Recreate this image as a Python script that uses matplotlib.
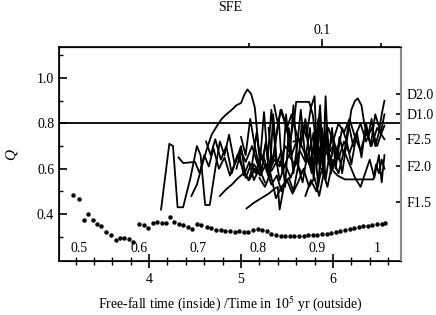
import matplotlib
matplotlib.use("Agg")
import matplotlib.pyplot as plt

plt.rcParams['font.family'] = ['Liberation Serif', 'DejaVu Serif']
plt.rcParams['font.size'] = 10
plt.rcParams['mathtext.fontset'] = 'stix'

# dotted series (time in 1e5 yr, Q)
dot_t = [3.17, 3.24, 3.29, 3.34, 3.39, 3.43, 3.48, 3.53, 3.585, 3.64, 3.68, 3.73,
         3.78, 3.83, 3.89, 3.94, 3.99, 4.04, 4.09, 4.14, 4.18, 4.23, 4.27, 4.32,
         4.37, 4.42, 4.47, 4.52, 4.57, 4.625, 4.675, 4.73,
         4.78, 4.83, 4.88, 4.93, 4.98, 5.03, 5.08, 5.13, 5.18, 5.23, 5.28, 5.33,
         5.38, 5.43, 5.48, 5.53, 5.58, 5.63, 5.68, 5.73, 5.78, 5.83, 5.88, 5.93,
         5.98, 6.03, 6.08, 6.13, 6.18, 6.23, 6.28, 6.33, 6.38, 6.43, 6.48, 6.53, 6.57]
dot_q = [0.483, 0.467, 0.376, 0.40, 0.376, 0.358, 0.347, 0.32, 0.308, 0.285, 0.295, 0.294,
         0.289, 0.277, 0.355, 0.352, 0.339, 0.361, 0.364, 0.361, 0.362, 0.388, 0.366, 0.358,
         0.351, 0.344, 0.333, 0.355, 0.351, 0.344, 0.338, 0.33,
         0.328, 0.326, 0.324, 0.322, 0.325, 0.322, 0.32, 0.33, 0.333, 0.33, 0.325, 0.314,
         0.308, 0.305, 0.303, 0.303, 0.304, 0.305, 0.305, 0.306, 0.307, 0.308, 0.31, 0.312,
         0.316, 0.32, 0.325, 0.329, 0.333, 0.338, 0.343, 0.346, 0.349, 0.352, 0.355, 0.358, 0.362]

# individual runs (time, Q)
runs = [
    ([4.13, 4.22, 4.26, 4.31, 4.37, 4.45, 4.52, 4.56, 4.61, 4.66, 4.72, 4.77, 4.82, 4.87,
      4.93, 4.98, 5.03, 5.09, 5.14, 5.20, 5.26],
     [0.42, 0.71, 0.70, 0.43, 0.43, 0.56, 0.70, 0.66, 0.44, 0.44, 0.60, 0.72, 0.66, 0.75,
      0.62, 0.67, 0.57, 0.63, 0.55, 0.60, 0.54]),
    ([4.32, 4.37, 4.50, 4.55, 4.60, 4.65, 4.70, 4.76, 4.82, 4.88, 4.94, 5.00, 5.05, 5.11,
      5.16, 5.21, 5.27, 5.33, 5.39, 5.44, 5.50],
     [0.65, 0.625, 0.63, 0.58, 0.66, 0.61, 0.69, 0.60, 0.65, 0.57, 0.63, 0.70, 0.56, 0.62,
      0.58, 0.66, 0.60, 0.53, 0.57, 0.50, 0.55]),
    ([4.46, 4.52, 4.58, 4.63, 4.68, 4.74, 4.79, 4.84, 4.90, 4.95, 5.00, 5.04, 5.07, 5.11,
      5.15, 5.19, 5.23, 5.27, 5.32, 5.37, 5.42, 5.48, 5.54, 5.60, 5.66],
     [0.48, 0.53, 0.62, 0.69, 0.75, 0.79, 0.82, 0.84, 0.86, 0.88, 0.89, 0.93, 0.95, 0.93,
      0.87, 0.70, 0.64, 0.71, 0.60, 0.67, 0.55, 0.62, 0.56, 0.63, 0.58]),
    ([4.77, 4.84, 4.90, 4.97, 5.03, 5.09, 5.15, 5.21, 5.27, 5.33, 5.40, 5.46, 5.52, 5.58,
      5.64, 5.70, 5.76, 5.82, 5.88, 5.94, 6.00, 6.06, 6.12, 6.18, 6.24, 6.30, 6.36, 6.42,
      6.48, 6.56],
     [0.48, 0.51, 0.53, 0.56, 0.58, 0.55, 0.60, 0.57, 0.62, 0.59, 0.64, 0.60, 0.66, 0.62,
      0.68, 0.63, 0.70, 0.64, 0.72, 0.66, 0.70, 0.64, 0.72, 0.67, 0.74, 0.68, 0.76, 0.70,
      0.78, 0.73]),
    ([5.06, 5.14, 5.22, 5.30, 5.36, 5.40, 5.42, 5.47, 5.52, 5.57, 5.62, 5.67, 5.72, 5.77,
      5.82, 5.86, 5.91, 5.96, 6.01],
     [0.425, 0.45, 0.47, 0.49, 0.51, 0.52, 0.42, 0.53, 0.56, 0.50, 0.61, 0.54, 0.66, 0.58,
      0.72, 0.60, 0.76, 0.62, 0.70]),
    ([5.00, 5.05, 5.10, 5.15, 5.20, 5.25, 5.29, 5.33, 5.37, 5.41, 5.45, 5.49, 5.53, 5.57,
      5.62, 5.66, 5.71, 5.76, 5.80, 5.83, 5.86, 5.90, 5.93, 5.97, 6.01],
     [0.74, 0.66, 0.82, 0.70, 0.60, 0.85, 0.64, 0.86, 0.70, 0.82, 0.58, 0.84, 0.66, 0.88,
      0.60, 0.80, 0.74, 0.87, 0.92, 0.62, 0.85, 0.56, 0.80, 0.62, 0.72]),
    ([5.30, 5.34, 5.38, 5.43, 5.48, 5.53, 5.58, 5.60, 5.67, 5.74, 5.78, 5.82, 5.86, 5.89,
      5.92, 5.95, 5.99, 6.03, 6.07, 6.12, 6.17, 6.22],
     [0.78, 0.62, 0.74, 0.86, 0.80, 0.72, 0.82, 0.895, 0.895, 0.895, 0.84, 0.70, 0.88, 0.58,
      0.92, 0.64, 0.78, 0.60, 0.74, 0.66, 0.80, 0.70]),
    ([5.57, 5.66, 5.70, 5.74, 5.79, 5.84, 5.88, 5.92, 5.96, 6.00, 6.05, 6.10, 6.15, 6.20,
      6.26, 6.31, 6.36, 6.41, 6.46, 6.52, 6.56],
     [0.72, 0.73, 0.80, 0.67, 0.76, 0.52, 0.78, 0.55, 0.66, 0.60, 0.70, 0.58, 0.72, 0.62,
      0.76, 0.65, 0.80, 0.70, 0.84, 0.76, 0.84]),
    ([5.95, 6.00, 6.05, 6.10, 6.15, 6.20, 6.24, 6.27, 6.31, 6.34, 6.38, 6.42, 6.46, 6.50,
      6.53, 6.56],
     [0.68, 0.74, 0.66, 0.78, 0.72, 0.86, 0.90, 0.91, 0.88, 0.80, 0.74, 0.82, 0.70, 0.76,
      0.84, 0.90]),
    ([5.98, 6.05, 6.13, 6.44, 6.47, 6.50, 6.53, 6.56],
     [0.60, 0.57, 0.553, 0.553, 0.62, 0.58, 0.64, 0.60]),
    ([5.70, 5.76, 5.82, 5.88, 5.94, 6.00, 6.06, 6.12, 6.18, 6.24, 6.30, 6.35, 6.40, 6.45,
      6.50, 6.53, 6.56],
     [0.48, 0.55, 0.50, 0.60, 0.52, 0.64, 0.58, 0.68, 0.62, 0.56, 0.52, 0.58, 0.64, 0.56,
      0.66, 0.54, 0.66]),
    ([5.36, 5.40, 5.44, 5.50, 5.55, 5.60, 5.65, 5.70, 5.76, 5.80, 5.85, 5.90, 5.95, 6.00,
      6.06, 6.12, 6.18, 6.24, 6.30, 6.36, 6.42, 6.48, 6.53, 6.56],
     [0.88, 0.80, 0.86, 0.78, 0.84, 0.76, 0.70, 0.82, 0.60, 0.75, 0.66, 0.70, 0.78, 0.72,
      0.80, 0.76, 0.82, 0.74, 0.80, 0.72, 0.78, 0.70, 0.76, 0.79]),
    ([4.62, 4.67, 4.72, 4.78, 4.84, 4.90, 4.96, 5.02, 5.08, 5.14, 5.20],
     [0.72, 0.66, 0.73, 0.64, 0.70, 0.58, 0.66, 0.60, 0.55, 0.62, 0.58]),
    ([5.20, 5.26, 5.32, 5.38, 5.44, 5.50, 5.56, 5.62, 5.68, 5.74, 5.80, 5.85, 5.90],
     [0.56, 0.52, 0.58, 0.47, 0.52, 0.55, 0.49, 0.54, 0.60, 0.52, 0.56, 0.48, 0.58]),
    ([5.12, 5.17, 5.22, 5.27, 5.31, 5.35, 5.39, 5.44, 5.48, 5.52, 5.57, 5.61, 5.65, 5.70,
      5.75, 5.79, 5.84, 5.88, 5.93, 5.98],
     [0.62, 0.76, 0.58, 0.72, 0.55, 0.84, 0.62, 0.68, 0.52, 0.78, 0.58, 0.70, 0.86, 0.64,
      0.78, 0.55, 0.82, 0.66, 0.74, 0.58]),
    ([4.95, 5.00, 5.05, 5.12, 5.18, 5.24, 5.30, 5.36, 5.42, 5.48, 5.55, 5.62, 5.68, 5.74,
      5.80, 5.86],
     [0.60, 0.68, 0.63, 0.70, 0.62, 0.66, 0.58, 0.64, 0.61, 0.70, 0.66, 0.74, 0.68, 0.62,
      0.70, 0.66]),
]

q_threshold = 0.8

# free-fall time labels drawn inside (free-fall = ratio * time)
ff_ratio = 0.1543
ff_labels = [0.5, 0.6, 0.7, 0.8, 0.9, 1.0]

# right-hand markers
right_q = [0.929, 0.841, 0.731, 0.611, 0.453]
right_labels = ["D2.0", "D1.0", "F2.5", "F2.0", "F1.5"]

# SFE axis ticks (positions in time units)
sfe_major_t = [5.88]
sfe_major_labels = ["0.1"]
sfe_minor_t = [5.085, 6.52]

fig = plt.figure(figsize=(4.36, 3.15), dpi=100)
ax = fig.add_axes([0.1353, 0.1714, 0.7844, 0.6794])

for t, q in runs:
    ax.plot(t, q, color='black', lw=1.3)
ax.plot(dot_t, dot_q, 'o', color='black', ms=3.2, mec='none')
ax.axhline(q_threshold, color='black', lw=1.3)

ax.set_xlim(3.02, 6.74)
ax.set_ylim(0.193, 1.137)

ax.set_xticks([4, 5, 6])
ax.set_xticks([3.2 + 0.2 * i for i in range(18)], minor=True)
ax.set_yticks([0.4, 0.6, 0.8, 1.0])
ax.set_yticklabels(["0.4", "0.6", "0.8", "1.0"])
ax.set_yticks([0.3, 0.5, 0.7, 0.9, 1.1], minor=True)
ax.tick_params(axis='x', which='major', direction='inout', length=9.4, width=1.2, pad=4)
ax.tick_params(axis='x', which='minor', direction='inout', length=5.8, width=1.0)
ax.tick_params(axis='y', which='major', direction='in', length=5.5, width=1.2, labelsize=10)
ax.tick_params(axis='y', which='minor', direction='in', length=3, width=1.0)
ax.tick_params(right=False, top=False, which='both')

for s in ['left', 'top', 'bottom']:
    ax.spines[s].set_linewidth(1.2)
ax.spines['right'].set_color('0.55')
ax.spines['right'].set_linewidth(1.5)

for f in ff_labels:
    ax.text(f / ff_ratio, 0.25, "1" if f == 1.0 else "%.1f" % f,
            ha='center', va='center', fontsize=10)

ax.set_xlabel("Free-fall time (inside) /Time in 10$^5$ yr (outside)", fontsize=10, labelpad=6)
ax.set_ylabel("Q", fontstyle='italic', fontsize=11, labelpad=14)

ax2 = ax.twinx()
ax2.set_ylim(ax.get_ylim())
ax2.set_yticks(right_q)
ax2.set_yticklabels(right_labels)
ax2.tick_params(axis='y', direction='in', length=3.5, width=1.2, pad=4, labelsize=10)
ax2.spines['right'].set_color('0.55')
ax2.spines['right'].set_linewidth(1.5)

sec = ax.secondary_xaxis('top')
sec.set_xticks(sfe_major_t)
sec.set_xticklabels(sfe_major_labels)
sec.set_xticks(sfe_minor_t, minor=True)
sec.tick_params(which='major', direction='out', length=5.8, width=1.2, labelsize=10, pad=1.5)
sec.tick_params(which='minor', direction='out', length=3, width=1.2)
sec.set_xlabel("SFE", fontsize=10, labelpad=9)

fig.savefig("out.png", dpi=100)
